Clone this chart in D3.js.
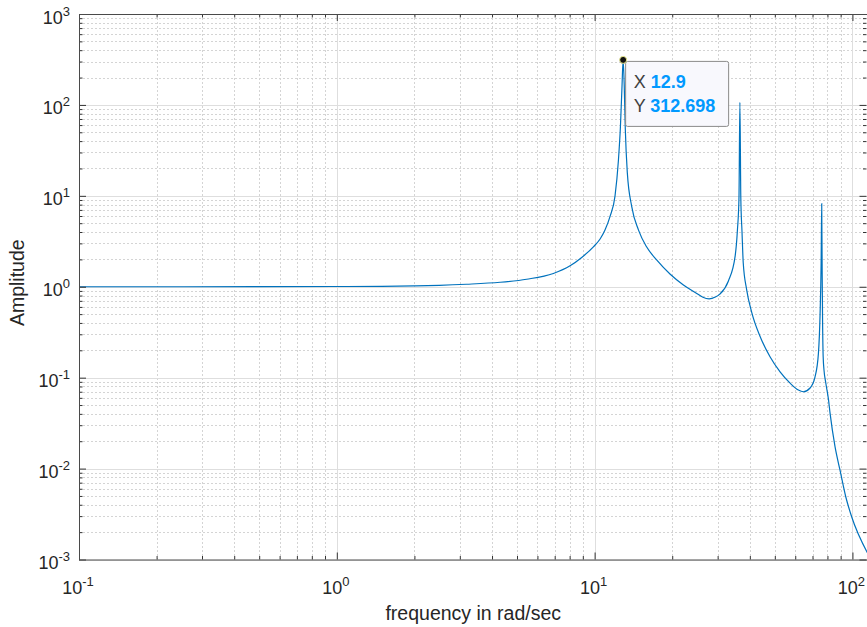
<!DOCTYPE html>
<html><head><meta charset="utf-8">
<script src="https://cdn.jsdelivr.net/npm/d3@7/dist/d3.min.js"></script>
<style>body{margin:0;background:#fff}svg{display:block}</style>
</head><body>
<svg id="c" width="867" height="627"></svg>
<script>
// ---- data ----
const freq = [0.1, 0.2, 0.5, 1.0, 1.5, 2.0, 2.5, 3.19, 4.30, 5.45, 6.92, 8.03, 8.91, 9.89, 10.5, 10.97, 11.47, 12.0, 12.36, 12.6, 12.77, 12.9, 13.03, 13.15, 13.39, 13.93, 14.8, 15.9, 17.4, 19.6, 22.1, 24.9, 26.3, 27.8, 29.4, 30.6, 33.0, 35.1, 35.8, 36.3, 36.6, 36.9, 37.3, 37.7, 38.9, 40.7, 43.8, 47.9, 52.4, 57.3, 61.7, 64.5, 68.5, 71.6, 73.8, 74.9, 75.6, 76.0, 76.3, 76.6, 77.0, 77.6, 78.8, 80.7, 81.9, 85.6, 89.5, 94.2, 99.3, 114.4];
const amplitude = [1.000, 1.000, 1.002, 1.006, 1.012, 1.022, 1.036, 1.065, 1.12, 1.21, 1.40, 1.70, 2.10, 2.75, 3.35, 4.2, 5.9, 10.0, 24, 60, 160, 312.698, 160, 55, 18, 7.6, 4.2, 2.75, 1.97, 1.38, 1.045, 0.845, 0.765, 0.735, 0.77, 0.83, 1.15, 2.2, 4.2, 9.5, 107, 9.5, 4.0, 1.85, 0.92, 0.52, 0.285, 0.17, 0.116, 0.087, 0.073, 0.070, 0.077, 0.102, 0.185, 0.5, 1.8, 8.2, 1.5, 0.4, 0.17, 0.12, 0.088, 0.058, 0.0405, 0.0174, 0.0096, 0.0049, 0.00295, 0.00118];
const xTickExps = [-1, 0, 1, 2];
const yTickExps = [-3, -2, -1, 0, 1, 2, 3];
const tipX = 12.9, tipY = 312.698;
const xLabel = "frequency in rad/sec";
const yLabel = "Amplitude";

// ---- layout ----
const L = 79, T = 14, R = 867.5, B = 559.5;
const FONT = "'Liberation Sans', Arial, Helvetica, sans-serif";
const svg = d3.select("#c");

const x = d3.scaleLog().domain([0.1, 114.4]).range([L, R]);
const y = d3.scaleLog().domain([1e-3, 1e3]).range([B, T]);

function minors(scale) {
  const [a, b] = scale.domain();
  const out = [];
  for (let e = Math.floor(Math.log10(a)); e <= Math.ceil(Math.log10(b)); e++)
    for (let k = 2; k <= 9; k++) { const v = k * Math.pow(10, e); if (v > a && v < b) out.push(v); }
  return out;
}
const xMaj = xTickExps.map(e => Math.pow(10, e));
const yMaj = yTickExps.map(e => Math.pow(10, e));
const xMin = minors(x), yMin = minors(y);

// grid
const grid = svg.append("g");
grid.selectAll(".xm").data(xMin).join("line")
  .attr("x1", d => Math.round(x(d)) + 0.5).attr("x2", d => Math.round(x(d)) + 0.5)
  .attr("y1", T).attr("y2", B).attr("stroke", "#d4d4d4").attr("stroke-dasharray", "2,2");
grid.selectAll(".ym").data(yMin).join("line")
  .attr("y1", d => Math.round(y(d)) + 0.5).attr("y2", d => Math.round(y(d)) + 0.5)
  .attr("x1", L).attr("x2", R).attr("stroke", "#d4d4d4").attr("stroke-dasharray", "2,2");
grid.selectAll(".xM").data(xMaj).join("line")
  .attr("x1", d => Math.round(x(d)) + 0.5).attr("x2", d => Math.round(x(d)) + 0.5)
  .attr("y1", T).attr("y2", B).attr("stroke", "#dedede");
grid.selectAll(".yM").data(yMaj).join("line")
  .attr("y1", d => Math.round(y(d)) + 0.5).attr("y2", d => Math.round(y(d)) + 0.5)
  .attr("x1", L).attr("x2", R).attr("stroke", "#dedede");

// curve
svg.append("clipPath").attr("id", "clip").append("rect")
  .attr("x", L).attr("y", T).attr("width", R - L).attr("height", B - T);
const pts = freq.map((f, i) => [f, amplitude[i]]);
svg.append("path").datum(pts)
  .attr("clip-path", "url(#clip)")
  .attr("fill", "none").attr("stroke", "#0072BD").attr("stroke-width", 1.2)
  .attr("d", d3.line().x(d => x(d[0])).y(d => y(d[1])).curve(d3.curveMonotoneX));

// axes (ticks inward)
function styleAxis(g) {
  g.select(".domain").remove();
  g.selectAll(".tick line").attr("stroke", "#333");
  g.selectAll(".tick text").remove();
}
const none = () => "";
svg.append("g").attr("transform", `translate(0,${B})`)
  .call(d3.axisBottom(x).tickValues(xMaj).tickSizeInner(-7).tickSizeOuter(0).tickFormat(none)).call(styleAxis);
svg.append("g").attr("transform", `translate(0,${B})`)
  .call(d3.axisBottom(x).tickValues(xMin).tickSizeInner(-3.5).tickSizeOuter(0).tickFormat(none)).call(styleAxis);
svg.append("g").attr("transform", `translate(0,${T})`)
  .call(d3.axisTop(x).tickValues(xMaj).tickSizeInner(-7).tickSizeOuter(0).tickFormat(none)).call(styleAxis);
svg.append("g").attr("transform", `translate(0,${T})`)
  .call(d3.axisTop(x).tickValues(xMin).tickSizeInner(-3.5).tickSizeOuter(0).tickFormat(none)).call(styleAxis);
svg.append("g").attr("transform", `translate(${L},0)`)
  .call(d3.axisLeft(y).tickValues(yMaj).tickSizeInner(-7).tickSizeOuter(0).tickFormat(none)).call(styleAxis);
svg.append("g").attr("transform", `translate(${L},0)`)
  .call(d3.axisLeft(y).tickValues(yMin).tickSizeInner(-3.5).tickSizeOuter(0).tickFormat(none)).call(styleAxis);
svg.append("g").attr("transform", `translate(${R - 1},0)`)
  .call(d3.axisRight(y).tickValues(yMaj).tickSizeInner(-7).tickSizeOuter(0).tickFormat(none)).call(styleAxis);
svg.append("g").attr("transform", `translate(${R - 1},0)`)
  .call(d3.axisRight(y).tickValues(yMin).tickSizeInner(-3.5).tickSizeOuter(0).tickFormat(none)).call(styleAxis);

// frame
const fr = svg.append("g").attr("stroke", "#4a4a4a").attr("stroke-width", 1);
fr.append("line").attr("x1", L + 0.5).attr("x2", L + 0.5).attr("y1", T).attr("y2", B + 0.5);
fr.append("line").attr("x1", L).attr("x2", R + 1).attr("y1", B + 0.5).attr("y2", B + 0.5);
fr.append("line").attr("x1", L).attr("x2", R + 1).attr("y1", T + 0.5).attr("y2", T + 0.5);

// tick labels
function pow10(sel, e) {
  sel.append("tspan").text("10");
  sel.append("tspan").attr("dy", -8).attr("font-size", 13).text(String(e));
}
svg.append("g").selectAll("text").data(xTickExps).join("text")
  .attr("x", e => x(Math.pow(10, e)) - 1).attr("y", B + 34)
  .attr("text-anchor", "middle").attr("font-family", FONT).attr("font-size", 18).attr("fill", "#262626")
  .each(function (e) { pow10(d3.select(this), e); });
svg.append("g").selectAll("text").data(yTickExps).join("text")
  .attr("x", L - 9).attr("y", e => y(Math.pow(10, e)) + 9.5)
  .attr("text-anchor", "end").attr("font-family", FONT).attr("font-size", 18).attr("fill", "#262626")
  .each(function (e) { pow10(d3.select(this), e); });

// axis labels
svg.append("text").attr("x", (L + R) / 2).attr("y", 620)
  .attr("text-anchor", "middle").attr("font-family", FONT).attr("font-size", 19.5).attr("fill", "#262626")
  .text(xLabel);
svg.append("text").attr("transform", `translate(24,${(T + B) / 2 - 4}) rotate(-90)`)
  .attr("text-anchor", "middle").attr("font-family", FONT).attr("font-size", 19.5).attr("fill", "#262626")
  .text(yLabel);

// data tip
const mx = x(tipX), my = y(tipY);
const tip = svg.append("g");
tip.append("rect").attr("x", mx + 2.5).attr("y", my + 1.5).attr("width", 103).attr("height", 65)
  .attr("rx", 2).attr("fill", "#f8f8fd").attr("stroke", "#8a8a8a").attr("stroke-width", 1);
const t1 = tip.append("text").attr("x", mx + 10.5).attr("y", my + 28.5)
  .attr("font-family", FONT).attr("font-size", 18);
t1.append("tspan").attr("fill", "#404040").text("X ");
t1.append("tspan").attr("fill", "#0099ff").attr("font-weight", "bold").text(String(tipX));
const t2 = tip.append("text").attr("x", mx + 10.5).attr("y", my + 52)
  .attr("font-family", FONT).attr("font-size", 18);
t2.append("tspan").attr("fill", "#404040").text("Y ");
t2.append("tspan").attr("fill", "#0099ff").attr("font-weight", "bold").text(String(tipY));
tip.append("circle").attr("cx", mx).attr("cy", my).attr("r", 3.5)
  .attr("fill", "#111").attr("stroke", "#e6e68c").attr("stroke-width", 1);
</script>
</body></html>
